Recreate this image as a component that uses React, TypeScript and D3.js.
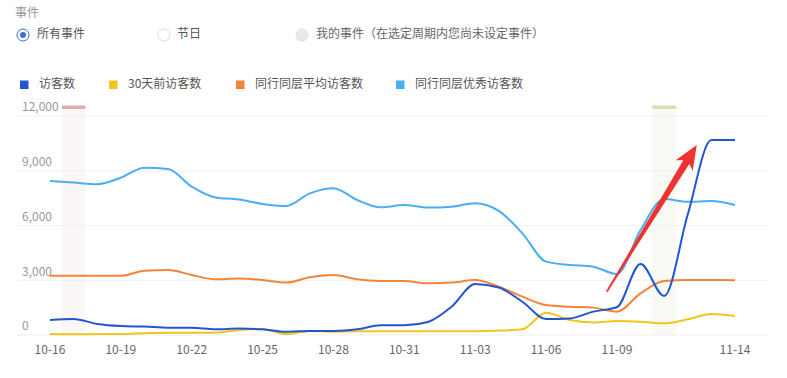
import React from "react";
import * as d3 from "d3";

const dates = ["10-16","10-17","10-18","10-19","10-20","10-21","10-22","10-23","10-24","10-25","10-26","10-27","10-28","10-29","10-30","10-31","11-01","11-02","11-03","11-04","11-05","11-06","11-07","11-08","11-09","11-10","11-11","11-12","11-13","11-14"];
const tickIdx = [0, 3, 6, 9, 12, 15, 18, 21, 24, 29];
const yTicks = [0, 3000, 6000, 9000, 12000];

const visitors = [820,880,600,490,460,400,400,310,350,310,180,220,220,310,530,530,710,1550,2800,2600,1820,880,910,1280,1520,3890,2140,6600,10680,10680];
const visitors30 = [50,40,50,50,100,130,130,130,270,330,50,220,180,200,200,200,200,200,210,240,310,1220,820,690,770,730,640,860,1150,1040];
const peerAvg = [3250,3250,3240,3240,3520,3560,3290,3050,3100,3010,2870,3160,3290,3050,2960,2960,2830,2870,3010,2650,2100,1640,1550,1500,1280,2280,2960,3010,3010,3000];
const peerTop = [8440,8350,8260,8620,9170,9100,8130,7540,7430,7180,7070,7760,8040,7400,7000,7120,6980,7030,7220,6800,5570,4020,3840,3740,3340,5750,7450,7300,7340,7120];

const seriesNames = ["访客数", "30天前访客数", "同行同层平均访客数", "同行同层优秀访客数"];
const seriesColors = ["#2254d3", "#f2c51a", "#f5843a", "#4aaef5"];
const seriesData = [visitors, visitors30, peerAvg, peerTop];

const eventDays = [1, 26];
const eventColors = ["#e3aaa8", "#d6dfb2"];
const eventFills = ["#faf7f6", "#f9faf4"];

const legendX = [20, 109, 236, 396];
const FONT = "'Noto Sans CJK SC', 'Noto Sans', sans-serif";

export default function App() {
  const x = d3.scaleLinear().domain([0, dates.length - 1]).range([50, 735]);
  const y = d3.scaleLinear().domain([0, 12000]).range([335, 116]);
  const step = x(1) - x(0);
  const line = d3
    .line<number>()
    .x((_, i) => x(i))
    .y((d) => y(d))
    .curve(d3.curveMonotoneX);

  // arrow annotation
  const tail = [x(23.57), y(2370)];
  const tip = [x(27.38), y(10410)];
  const dx = tip[0] - tail[0];
  const dy = tip[1] - tail[1];
  const len = Math.hypot(dx, dy);
  const ux = dx / len, uy = dy / len;
  const nx = -uy, ny = ux;
  const headLen = 24;
  const hb = [tip[0] - ux * headLen, tip[1] - uy * headLen];
  const sb = [tip[0] - ux * (headLen - 4), tip[1] - uy * (headLen - 4)];
  const arrowPts = [
    [tail[0] - nx * 0.8, tail[1] - ny * 0.8],
    [sb[0] - nx * 3.5, sb[1] - ny * 3.5],
    [hb[0] - nx * 10, hb[1] - ny * 10],
    tip,
    [hb[0] + nx * 10, hb[1] + ny * 10],
    [sb[0] + nx * 3.5, sb[1] + ny * 3.5],
    [tail[0] + nx * 0.8, tail[1] + ny * 0.8],
  ];

  return (
    <svg
      width={787}
      height={378}
      style={{ position: "absolute", left: 0, top: 0, background: "#fff" }}
      fontFamily={FONT}
    >
      <rect width={787} height={378} fill="#fff" />
      {/* events header */}
      <text x={15} y={14} fontSize={12} fill="#999" dominantBaseline="middle">事件</text>
      <circle cx={23} cy={35} r={6} fill="#fff" stroke="#3b6fd9" strokeWidth={1} />
      <circle cx={23} cy={35} r={3} fill="#3b6fd9" />
      <text x={37} y={35} fontSize={12} fill="#555" dominantBaseline="middle">所有事件</text>
      <circle cx={164} cy={35} r={6} fill="#fff" stroke="#ddd" strokeWidth={1} />
      <text x={177} y={35} fontSize={12} fill="#555" dominantBaseline="middle">节日</text>
      <circle cx={302} cy={35} r={6} fill="#e9e9e9" stroke="#e0e0e0" strokeWidth={1} />
      <text x={316} y={35} fontSize={12} fill="#666" dominantBaseline="middle">我的事件（在选定周期内您尚未设定事件）</text>

      {/* legend */}
      {seriesNames.map((n, i) => (
        <g key={n}>
          <rect x={legendX[i]} y={80.5} width={8.5} height={8.5} fill={seriesColors[i]} />
          <text x={legendX[i] + 19} y={85} fontSize={12} fill="#555" dominantBaseline="middle">{n}</text>
        </g>
      ))}

      {/* event bands */}
      {eventDays.map((d, i) => (
        <g key={d}>
          <rect x={x(d) - step / 2} y={110} width={step} height={y(0) - 110} fill={eventFills[i]} />
          <rect x={x(d) - step / 2} y={105.5} width={step} height={3.5} fill={eventColors[i]} />
        </g>
      ))}

      {/* grid + y labels */}
      {yTicks.map((t) => (
        <g key={t}>
          <line x1={17} x2={768} y1={y(t)} y2={y(t)} stroke="#f0f0f0" strokeWidth={1} />
          <text x={22} y={y(t) - 8} fontSize={12} fill="#999" dominantBaseline="middle">
            {d3.format(",")(t)}
          </text>
        </g>
      ))}

      {/* x labels */}
      {tickIdx.map((i) => (
        <text key={i} x={x(i)} y={351} fontSize={12} fill="#666" textAnchor="middle" dominantBaseline="middle">
          {dates[i]}
        </text>
      ))}

      {/* lines: draw order so that dark blue is on top */}
      {[1, 2, 3, 0].map((si) => (
        <path
          key={si}
          d={line(seriesData[si]) || ""}
          fill="none"
          stroke={seriesColors[si]}
          strokeWidth={2}
          strokeLinejoin="round"
        />
      ))}

      {/* arrow */}
      <polygon points={arrowPts.map((p) => p.join(",")).join(" ")} fill="#ee3330" />
    </svg>
  );
}
